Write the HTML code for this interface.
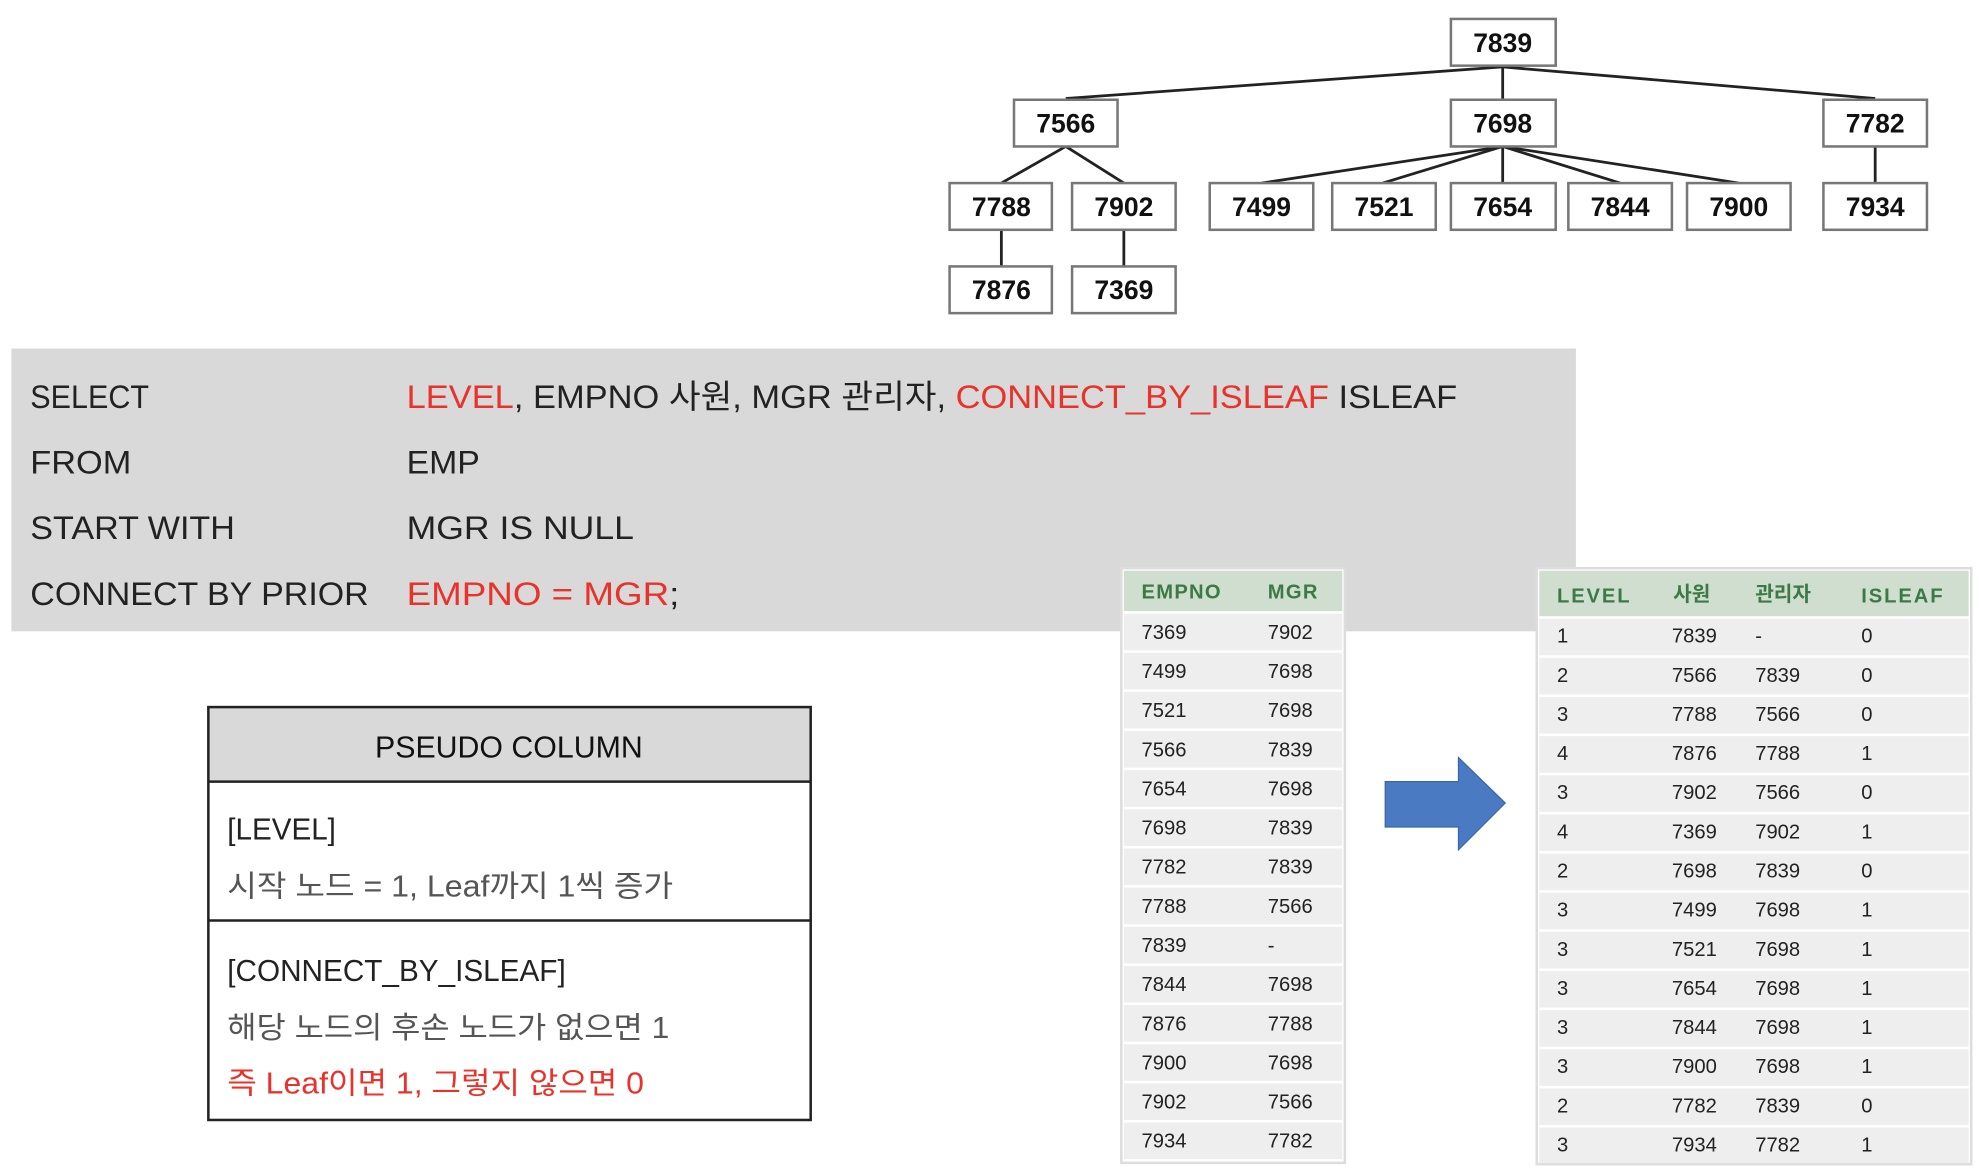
<!DOCTYPE html>
<html><head><meta charset="utf-8"><style>
html,body{margin:0;padding:0;background:#fff;}
svg{display:block;}
text{font-family:"Liberation Sans","Noto Sans CJK KR",sans-serif;}
</style></head><body>
<svg width="1980" height="1173" viewBox="0 0 1568 929" preserveAspectRatio="none" xmlns="http://www.w3.org/2000/svg">
<rect width="1568" height="929" fill="#fff"/>
<!-- tree lines -->
<g stroke="#222" stroke-width="2.2" fill="none">
<line x1="1190" y1="53" x2="844" y2="78"/>
<line x1="1190" y1="53" x2="1190" y2="78"/>
<line x1="1190" y1="53" x2="1485" y2="78"/>
<line x1="844" y1="116" x2="793" y2="145"/>
<line x1="844" y1="116" x2="890" y2="145"/>
<line x1="1190" y1="116" x2="999" y2="145"/>
<line x1="1190" y1="116" x2="1095" y2="145"/>
<line x1="1190" y1="116" x2="1190" y2="145"/>
<line x1="1190" y1="116" x2="1283" y2="145"/>
<line x1="1190" y1="116" x2="1377" y2="145"/>
<line x1="1485" y1="116" x2="1485" y2="145"/>
<line x1="793" y1="182" x2="793" y2="211"/>
<line x1="890" y1="182" x2="890" y2="211"/>
</g>
<g fill="#fff" stroke="#777" stroke-width="2">
<rect x="1149" y="15" width="83" height="37"/>
<rect x="803" y="79" width="82" height="37"/>
<rect x="1149" y="79" width="83" height="37"/>
<rect x="1444" y="79" width="82" height="37"/>
<rect x="752" y="145" width="81" height="37"/>
<rect x="849" y="145" width="82" height="37"/>
<rect x="958" y="145" width="82" height="37"/>
<rect x="1055" y="145" width="82" height="37"/>
<rect x="1149" y="145" width="83" height="37"/>
<rect x="1242" y="145" width="82" height="37"/>
<rect x="1336" y="145" width="82" height="37"/>
<rect x="1444" y="145" width="82" height="37"/>
<rect x="752" y="211" width="81" height="37"/>
<rect x="849" y="211" width="82" height="37"/>
</g>
<g font-size="21" font-weight="bold" fill="#111" text-anchor="middle">
<text x="1190" y="41">7839</text>
<text x="844" y="105">7566</text>
<text x="1190" y="105">7698</text>
<text x="1485" y="105">7782</text>
<text x="793" y="171">7788</text>
<text x="890" y="171">7902</text>
<text x="999" y="171">7499</text>
<text x="1096" y="171">7521</text>
<text x="1190" y="171">7654</text>
<text x="1283" y="171">7844</text>
<text x="1377" y="171">7900</text>
<text x="1485" y="171">7934</text>
<text x="793" y="237">7876</text>
<text x="890" y="237">7369</text>
</g>
<!-- SQL panel -->
<rect x="9" y="276" width="1239" height="224" fill="#d9d9d9"/>
<g font-size="26" fill="#222">
<text x="24" y="323" textLength="94" lengthAdjust="spacingAndGlyphs">SELECT</text>
<text x="24" y="375" textLength="80" lengthAdjust="spacingAndGlyphs">FROM</text>
<text x="24" y="427" textLength="162" lengthAdjust="spacingAndGlyphs">START WITH</text>
<text x="24" y="479" textLength="268" lengthAdjust="spacingAndGlyphs">CONNECT BY PRIOR</text>
<text x="322" y="323" textLength="832" lengthAdjust="spacingAndGlyphs"><tspan fill="#e8322a">LEVEL</tspan>, EMPNO 사원, MGR 관리자, <tspan fill="#e8322a">CONNECT_BY_ISLEAF</tspan> ISLEAF</text>
<text x="322" y="375" textLength="58" lengthAdjust="spacingAndGlyphs">EMP</text>
<text x="322" y="427" textLength="180" lengthAdjust="spacingAndGlyphs">MGR IS NULL</text>
<text x="322" y="479" textLength="216" lengthAdjust="spacingAndGlyphs"><tspan fill="#e8322a">EMPNO = MGR</tspan>;</text>
</g>
<!-- pseudo column box -->
<rect x="165" y="560" width="477" height="59" fill="#d9d9d9"/>
<rect x="165" y="560" width="477" height="327" fill="none" stroke="#222" stroke-width="2"/>
<line x1="165" y1="619" x2="642" y2="619" stroke="#222" stroke-width="2"/>
<line x1="165" y1="729" x2="642" y2="729" stroke="#222" stroke-width="2"/>
<g font-size="24">
<text x="403" y="600" text-anchor="middle" fill="#111" textLength="212" lengthAdjust="spacingAndGlyphs">PSEUDO COLUMN</text>
<text x="180" y="665" fill="#222" textLength="86" lengthAdjust="spacingAndGlyphs">[LEVEL]</text>
<text x="180" y="710" fill="#555" textLength="353" lengthAdjust="spacingAndGlyphs">시작 노드 = 1, Leaf까지 1씩 증가</text>
<text x="180" y="777" fill="#222" textLength="268" lengthAdjust="spacingAndGlyphs">[CONNECT_BY_ISLEAF]</text>
<text x="180" y="822" fill="#555" textLength="350" lengthAdjust="spacingAndGlyphs">해당 노드의 후손 노드가 없으면 1</text>
<text x="180" y="866" fill="#e8322a" textLength="330" lengthAdjust="spacingAndGlyphs">즉 Leaf이면 1, 그렇지 않으면 0</text>
</g>
<!-- left table -->
<rect x="888" y="450" width="177" height="471" fill="#fff" stroke="#ddd" stroke-width="2"/>
<rect x="890" y="452" width="173" height="32" fill="#cfdecf"/>
<g font-size="16" font-weight="bold" fill="#3c7a45">
<text x="904" y="474" letter-spacing="1">EMPNO</text>
<text x="1004" y="474" letter-spacing="1">MGR</text>
</g>
<g fill="#eeeeee">
<rect x="890" y="486" width="173" height="29"/><rect x="890" y="517" width="173" height="29"/><rect x="890" y="548" width="173" height="29"/><rect x="890" y="579" width="173" height="29"/><rect x="890" y="610" width="173" height="29"/><rect x="890" y="641" width="173" height="29"/><rect x="890" y="672" width="173" height="29"/><rect x="890" y="703" width="173" height="29"/><rect x="890" y="734" width="173" height="29"/><rect x="890" y="765" width="173" height="29"/><rect x="890" y="796" width="173" height="29"/><rect x="890" y="827" width="173" height="29"/><rect x="890" y="858" width="173" height="29"/><rect x="890" y="889" width="173" height="29"/>
</g>
<g font-size="16" fill="#222">
<text x="904" y="506">7369</text><text x="1004" y="506">7902</text>
<text x="904" y="537">7499</text><text x="1004" y="537">7698</text>
<text x="904" y="568">7521</text><text x="1004" y="568">7698</text>
<text x="904" y="599">7566</text><text x="1004" y="599">7839</text>
<text x="904" y="630">7654</text><text x="1004" y="630">7698</text>
<text x="904" y="661">7698</text><text x="1004" y="661">7839</text>
<text x="904" y="692">7782</text><text x="1004" y="692">7839</text>
<text x="904" y="723">7788</text><text x="1004" y="723">7566</text>
<text x="904" y="754">7839</text><text x="1004" y="754">-</text>
<text x="904" y="785">7844</text><text x="1004" y="785">7698</text>
<text x="904" y="816">7876</text><text x="1004" y="816">7788</text>
<text x="904" y="847">7900</text><text x="1004" y="847">7698</text>
<text x="904" y="878">7902</text><text x="1004" y="878">7566</text>
<text x="904" y="909">7934</text><text x="1004" y="909">7782</text>
</g>
<!-- arrow -->
<polygon points="1097,619 1155,619 1155,600 1192,636 1155,673 1155,655 1097,655" fill="#4a7bc2" stroke="#3a66a8" stroke-width="1"/>
<!-- right table -->
<rect x="1217" y="450" width="344" height="472" fill="#fff" stroke="#ddd" stroke-width="2"/>
<rect x="1219" y="452" width="340" height="36" fill="#cfdecf"/>
<g font-size="16" font-weight="bold" fill="#3c7a45">
<text x="1233" y="477" letter-spacing="1.5">LEVEL</text>
<text x="1325" y="476">사원</text>
<text x="1390" y="476">관리자</text>
<text x="1474" y="477" letter-spacing="1.5">ISLEAF</text>
</g>
<g fill="#eeeeee">
<rect x="1219" y="490" width="340" height="29"/><rect x="1219" y="521" width="340" height="29"/><rect x="1219" y="552" width="340" height="29"/><rect x="1219" y="583" width="340" height="29"/><rect x="1219" y="614" width="340" height="29"/><rect x="1219" y="645" width="340" height="29"/><rect x="1219" y="676" width="340" height="29"/><rect x="1219" y="707" width="340" height="29"/><rect x="1219" y="738" width="340" height="29"/><rect x="1219" y="769" width="340" height="29"/><rect x="1219" y="800" width="340" height="29"/><rect x="1219" y="831" width="340" height="29"/><rect x="1219" y="862" width="340" height="29"/><rect x="1219" y="893" width="340" height="28"/>
</g>
<g font-size="16" fill="#222">
<text x="1233" y="509">1</text><text x="1324" y="509">7839</text><text x="1390" y="509">-</text><text x="1474" y="509">0</text>
<text x="1233" y="540">2</text><text x="1324" y="540">7566</text><text x="1390" y="540">7839</text><text x="1474" y="540">0</text>
<text x="1233" y="571">3</text><text x="1324" y="571">7788</text><text x="1390" y="571">7566</text><text x="1474" y="571">0</text>
<text x="1233" y="602">4</text><text x="1324" y="602">7876</text><text x="1390" y="602">7788</text><text x="1474" y="602">1</text>
<text x="1233" y="633">3</text><text x="1324" y="633">7902</text><text x="1390" y="633">7566</text><text x="1474" y="633">0</text>
<text x="1233" y="664">4</text><text x="1324" y="664">7369</text><text x="1390" y="664">7902</text><text x="1474" y="664">1</text>
<text x="1233" y="695">2</text><text x="1324" y="695">7698</text><text x="1390" y="695">7839</text><text x="1474" y="695">0</text>
<text x="1233" y="726">3</text><text x="1324" y="726">7499</text><text x="1390" y="726">7698</text><text x="1474" y="726">1</text>
<text x="1233" y="757">3</text><text x="1324" y="757">7521</text><text x="1390" y="757">7698</text><text x="1474" y="757">1</text>
<text x="1233" y="788">3</text><text x="1324" y="788">7654</text><text x="1390" y="788">7698</text><text x="1474" y="788">1</text>
<text x="1233" y="819">3</text><text x="1324" y="819">7844</text><text x="1390" y="819">7698</text><text x="1474" y="819">1</text>
<text x="1233" y="850">3</text><text x="1324" y="850">7900</text><text x="1390" y="850">7698</text><text x="1474" y="850">1</text>
<text x="1233" y="881">2</text><text x="1324" y="881">7782</text><text x="1390" y="881">7839</text><text x="1474" y="881">0</text>
<text x="1233" y="912">3</text><text x="1324" y="912">7934</text><text x="1390" y="912">7782</text><text x="1474" y="912">1</text>
</g>
</svg>
</body></html>
